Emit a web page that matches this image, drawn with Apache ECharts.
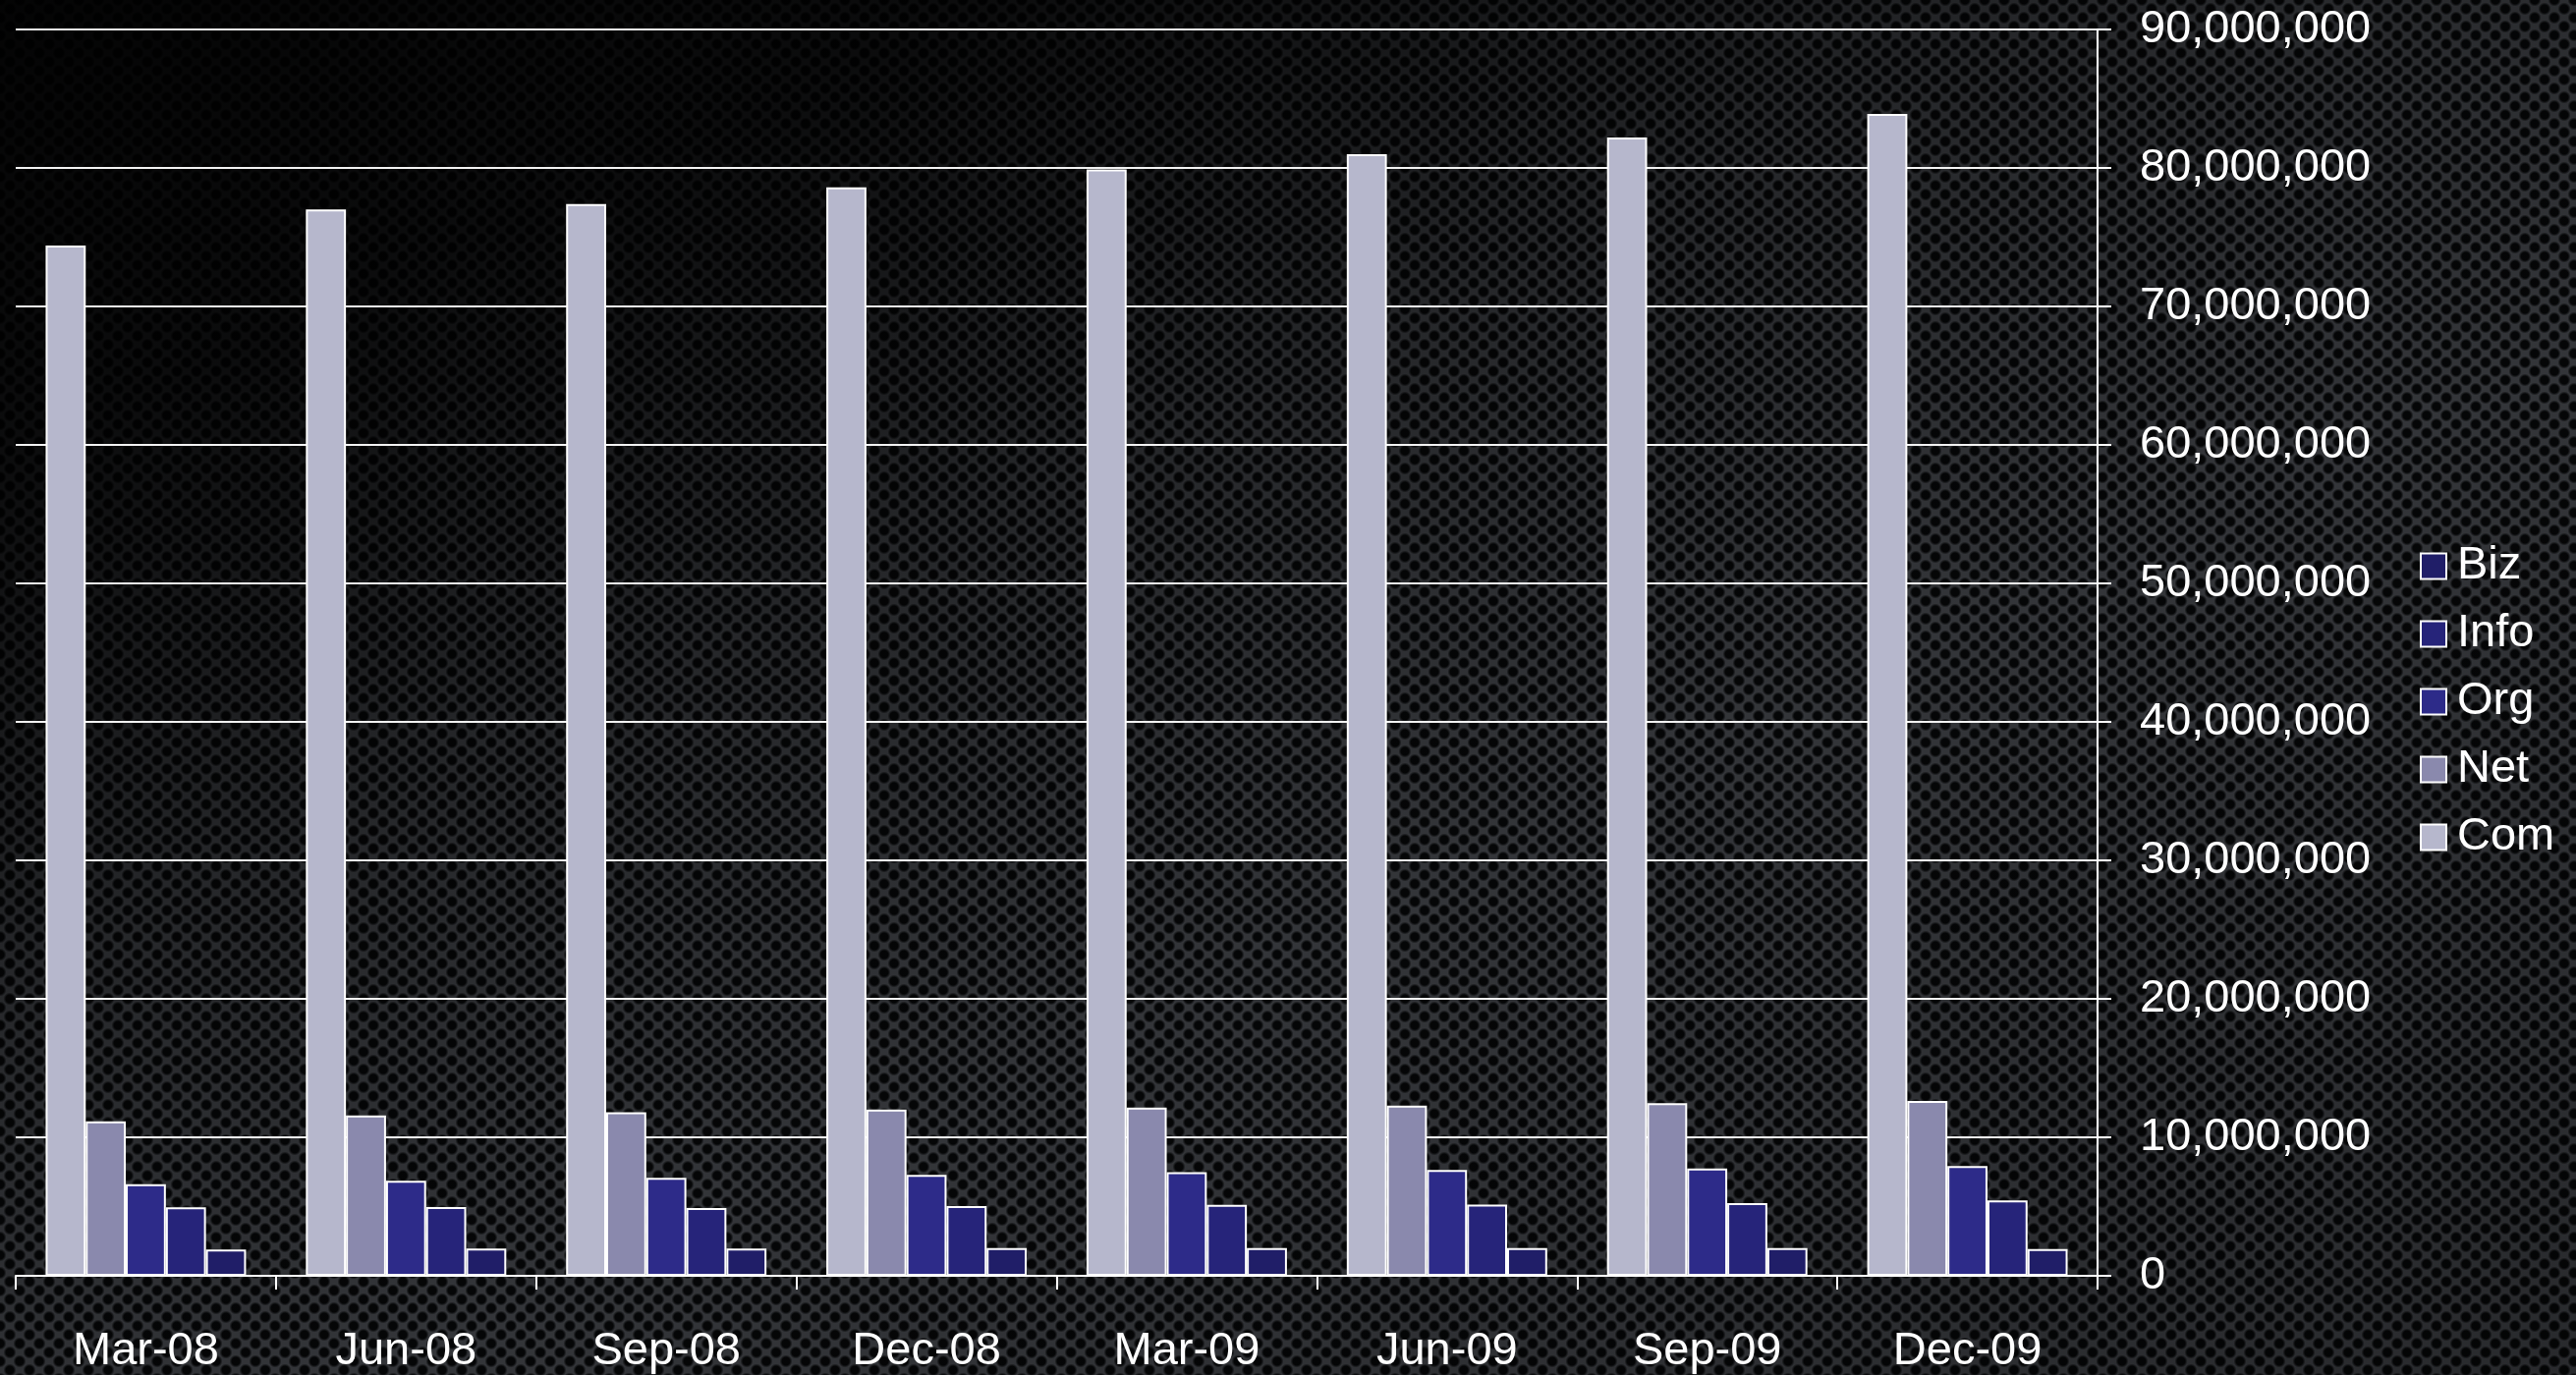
<!DOCTYPE html>
<html>
<head>
<meta charset="utf-8">
<script src="https://cdn.jsdelivr.net/npm/echarts@6/dist/echarts.min.js"></script>
<style>
  html, body { margin: 0; padding: 0; width: 2622px; height: 1400px; overflow: hidden; }
  body {
    background-color: #36383c;
    background-image:
      linear-gradient(155deg, rgba(0,0,0,0.93) 0%, rgba(0,0,0,0.78) 18%, rgba(0,0,0,0.3) 38%, rgba(0,0,0,0.05) 60%, rgba(0,0,0,0.25) 100%),
      radial-gradient(circle at 50% 50%, #050607 0, #050607 4px, rgba(5,6,7,0) 6.5px),
      radial-gradient(circle at 50% 50%, #050607 0, #050607 4px, rgba(5,6,7,0) 6.5px);
    background-size: 100% 100%, 20px 18px, 20px 18px;
    background-position: 0 0, 0 0, 10px 9px;
  }
  #chart { width: 2622px; height: 1400px; }
</style>
</head>
<body>
<div id="chart"></div>
<script>
const categories = ['Mar-08', 'Jun-08', 'Sep-08', 'Dec-08', 'Mar-09', 'Jun-09', 'Sep-09', 'Dec-09'];
const comValues  = [74400000, 77000000, 77400000, 78600000, 79900000, 81000000, 82200000, 83900000];
const netValues  = [11160000, 11580000, 11800000, 12000000, 12150000, 12290000, 12460000, 12620000];
const orgValues  = [6620000, 6860000, 7070000, 7280000, 7490000, 7640000, 7750000, 7920000];
const infoValues = [4940000, 4960000, 4890000, 5040000, 5130000, 5150000, 5250000, 5440000];
const bizValues  = [1890000, 1960000, 1960000, 2010000, 2010000, 2010000, 2010000, 1940000];
const legendOrder = ['Biz', 'Info', 'Org', 'Net', 'Com'];

const FONT = '"Liberation Sans", Arial, Helvetica, sans-serif';
const chart = echarts.init(document.getElementById('chart'), null, { renderer: 'canvas' });

function bar(name, data, color) {
  return {
    name: name,
    type: 'bar',
    data: data,
    barGap: '0%',
    barCategoryGap: '23%',
    itemStyle: { color: color, borderColor: '#ffffff', borderWidth: 2 },
    emphasis: { disabled: true }
  };
}

chart.setOption({
  animation: false,
  backgroundColor: 'transparent',
  textStyle: { fontFamily: FONT },
  grid: { left: 16, right: 487, top: 30, bottom: 97, containLabel: false },
  legend: {
    orient: 'vertical',
    left: 2463,
    top: 553,
    padding: 0,
    itemWidth: 26,
    itemHeight: 26,
    itemGap: 22,
    icon: 'rect',
    data: legendOrder,
    textStyle: { color: '#ffffff', fontSize: 47, fontFamily: FONT, padding: [0, 0, 0, 6] }
  },
  xAxis: {
    type: 'category',
    data: categories,
    boundaryGap: true,
    axisLine: { show: true, lineStyle: { color: '#ffffff', width: 2 } },
    axisTick: { show: true, alignWithLabel: false, length: 14, lineStyle: { color: '#ffffff', width: 2 } },
    axisLabel: { color: '#ffffff', fontSize: 47, fontFamily: FONT, margin: 54, interval: 0 },
    splitLine: { show: false }
  },
  yAxis: {
    type: 'value',
    position: 'right',
    min: 0,
    max: 90000000,
    interval: 10000000,
    axisLine: { show: true, lineStyle: { color: '#ffffff', width: 2 } },
    axisTick: { show: true, length: 14, lineStyle: { color: '#ffffff', width: 2 } },
    axisLabel: {
      color: '#ffffff', fontSize: 47, fontFamily: FONT, margin: 43, padding: [12, 0, 0, 0],
      formatter: function (v) { return v.toString().replace(/\B(?=(\d{3})+(?!\d))/g, ','); }
    },
    splitLine: { show: true, lineStyle: { color: '#f2f2f2', width: 2 } }
  },
  series: [
    bar('Com', comValues, '#b6b7cc'),
    bar('Net', netValues, '#8a89ad'),
    bar('Org', orgValues, '#2d2b89'),
    bar('Info', infoValues, '#26247a'),
    bar('Biz', bizValues, '#201e68')
  ]
});
</script>
</body>
</html>
